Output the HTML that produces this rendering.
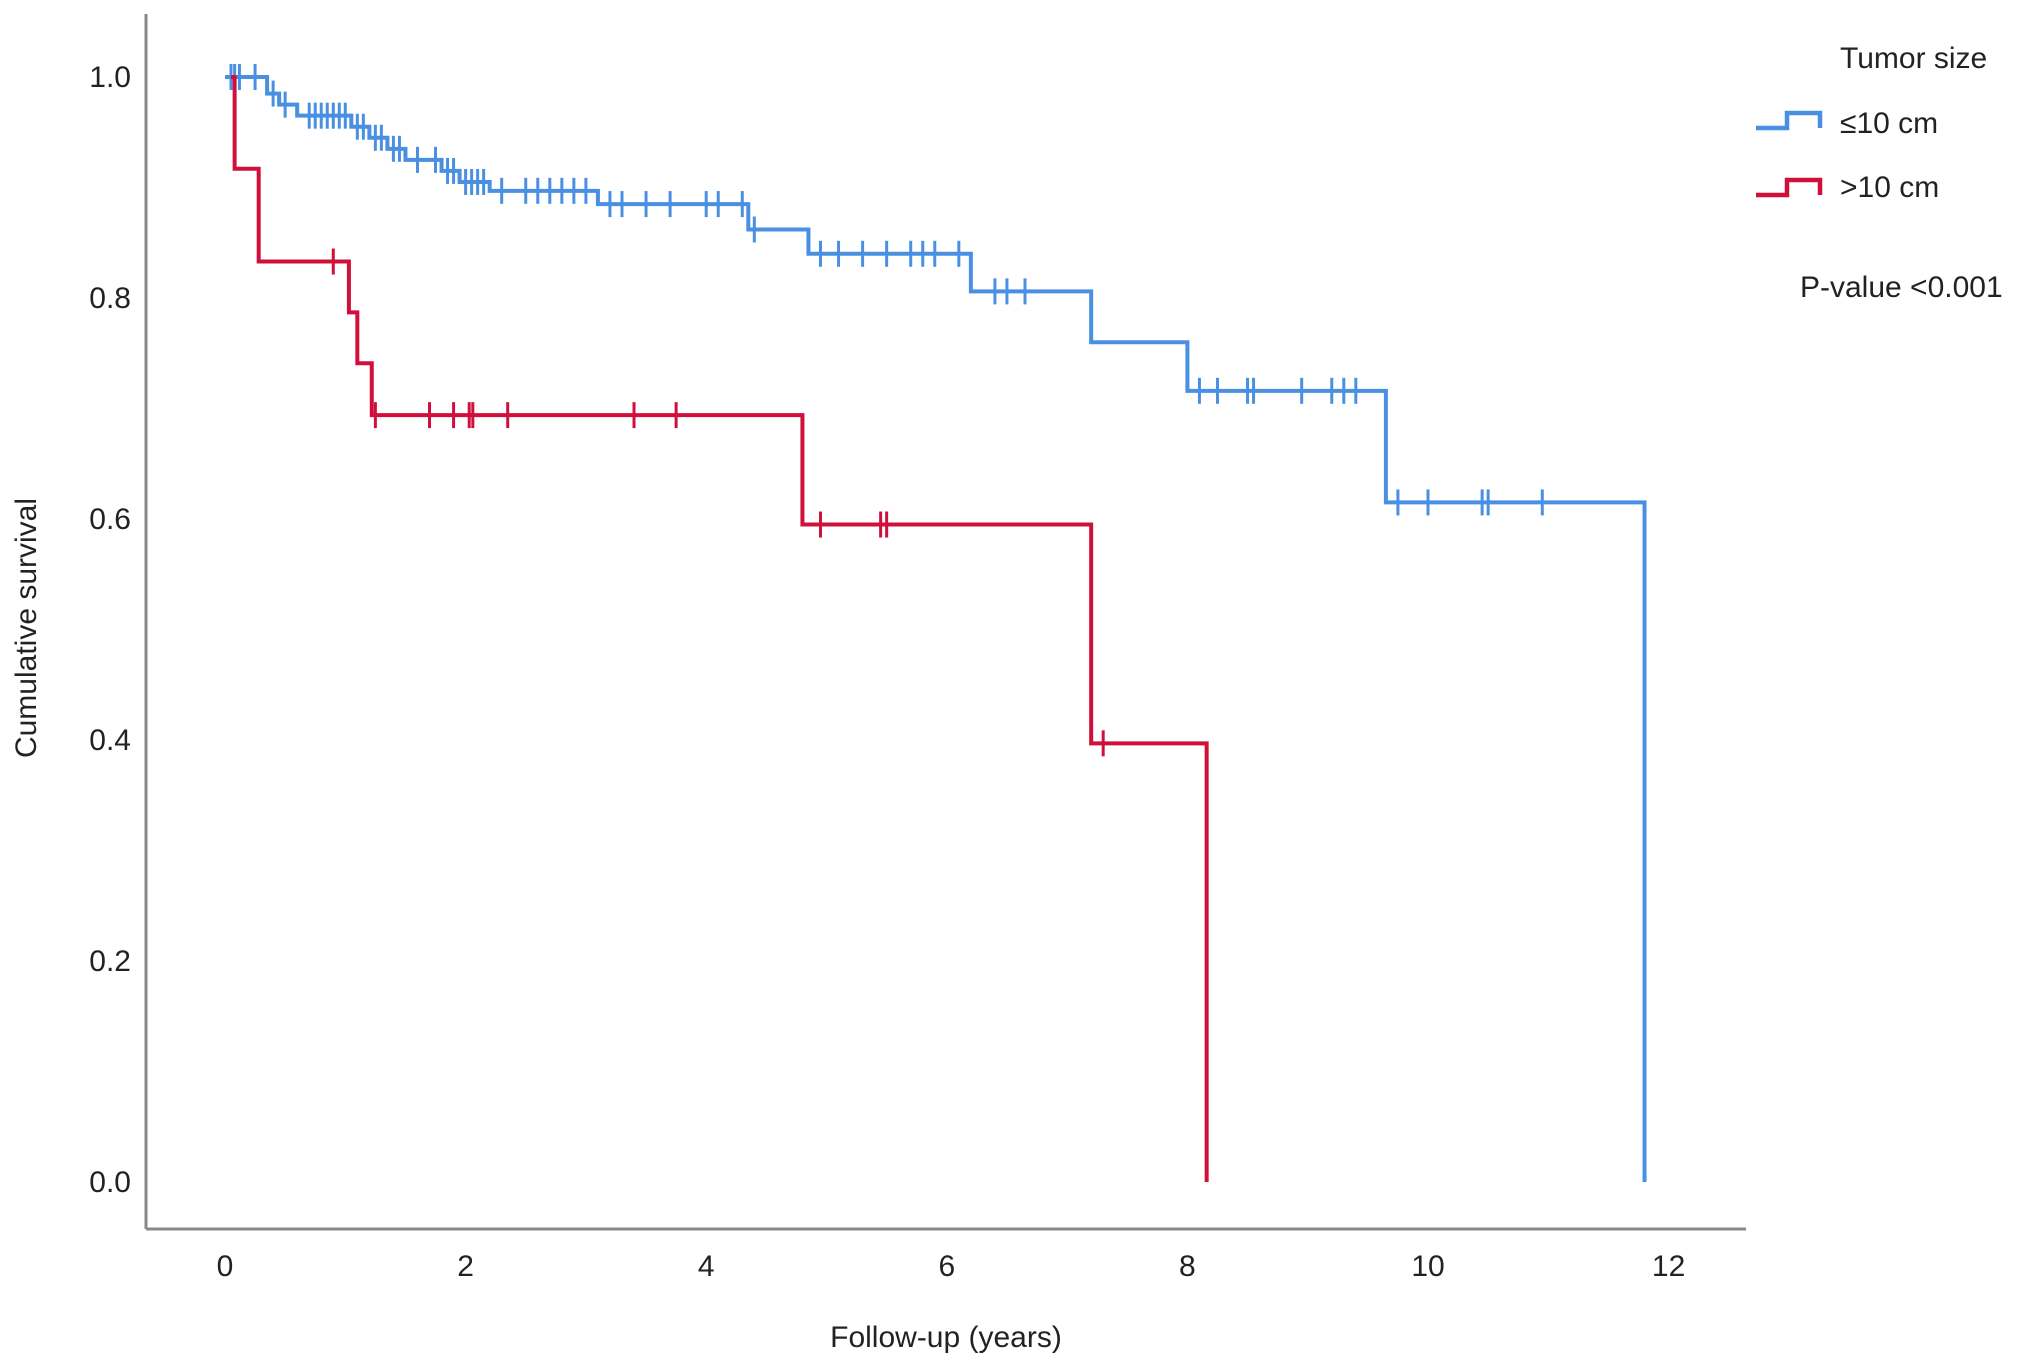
<!DOCTYPE html>
<html><head><meta charset="utf-8"><style>
html,body{margin:0;padding:0;background:#fff;}
svg{display:block;font-family:"Liberation Sans",Arial,sans-serif;}
</style></head><body>
<svg id="chart" width="2032" height="1369" viewBox="0 0 2032 1369">
<g id="axes"></g>
<g id="plot"></g>
<g>
<text x="1840" y="68" font-size="30" fill="#222">Tumor size</text>
<path d="M1756 128 H1787 V113 H1820 V128" fill="none" stroke="#4a90e2" stroke-width="4.5"/>
<text x="1840" y="133" font-size="30" fill="#222">≤10 cm</text>
<path d="M1756 195 H1787 V180 H1820 V195" fill="none" stroke="#d0103a" stroke-width="4.5"/>
<text x="1840" y="197" font-size="30" fill="#222">&gt;10 cm</text>
<text x="1800" y="297" font-size="30" fill="#222">P-value &lt;0.001</text>
</g>
<text x="946" y="1347" font-size="30" fill="#222" text-anchor="middle">Follow-up (years)</text>
<text transform="translate(36,628) rotate(-90)" font-size="30" fill="#222" text-anchor="middle">Cumulative survival</text>
</svg>
<script>
const xTicks=[0,2,4,6,8,10,12];
const yTicks=[0.0,0.2,0.4,0.6,0.8,1.0];
const blueTimes=[0,0.35,0.45,0.6,1.05,1.2,1.35,1.5,1.8,1.95,2.2,3.1,4.35,4.85,6.2,7.2,8.0,9.65,11.8];
const blueSurv=[1.0,0.985,0.975,0.965,0.955,0.945,0.935,0.925,0.915,0.905,0.897,0.885,0.862,0.84,0.806,0.76,0.716,0.615,0.0];
const blueCensor=[0.05,0.08,0.12,0.25,0.4,0.5,0.7,0.75,0.8,0.85,0.9,0.95,1.0,1.1,1.15,1.25,1.3,1.4,1.45,1.6,1.75,1.85,1.9,2.0,2.05,2.1,2.15,2.3,2.5,2.6,2.7,2.8,2.9,3.0,3.2,3.3,3.5,3.7,4.0,4.1,4.3,4.4,4.95,5.1,5.3,5.5,5.7,5.8,5.9,6.1,6.4,6.5,6.65,8.1,8.25,8.5,8.55,8.95,9.2,9.3,9.4,9.75,10.0,10.45,10.5,10.95];
const redTimes=[0.05,0.08,0.28,1.03,1.1,1.22,4.8,7.2,8.16];
const redSurv=[1.0,0.917,0.833,0.787,0.741,0.694,0.595,0.397,0.0];
const redCensor=[0.9,1.25,1.7,1.9,2.03,2.06,2.35,3.4,3.75,4.95,5.45,5.5,7.3];
const NS="http://www.w3.org/2000/svg";
const xs=t=>225+120.3*t;
const ys=v=>1182-1105*v;
function mk(tag,attrs,parent){const e=document.createElementNS(NS,tag);for(const k in attrs)e.setAttribute(k,attrs[k]);parent.appendChild(e);return e;}
const axes=document.getElementById('axes'),plot=document.getElementById('plot');
let a=mk('line',{x1:146,y1:14,x2:146,y2:1229,stroke:'#888','stroke-width':3},axes);


a=mk('line',{x1:146,y1:1229,x2:1746,y2:1229,stroke:'#888','stroke-width':3},axes);


xTicks.forEach(t=>{const e=mk('text',{x:xs(t),y:1276,'font-size':30,fill:'#222','text-anchor':'middle'},axes);e.textContent=t;

});
yTicks.forEach(v=>{const e=mk('text',{x:131,y:ys(v)+10,'font-size':30,fill:'#222','text-anchor':'end'},axes);e.textContent=v.toFixed(1);

});
function curve(times,surv,censor,color,name){
  let d='M'+xs(times[0])+' '+ys(surv[0]);
  for(let i=1;i<times.length;i++){d+=' H'+xs(times[i])+' V'+ys(surv[i]);}
  const p=mk('path',{d:d,fill:'none',stroke:color,'stroke-width':4},plot);
  
  
  censor.forEach(t=>{let v=surv[0];for(let i=0;i<times.length;i++){if(times[i]<=t)v=surv[i];}
    const l=mk('line',{x1:xs(t),x2:xs(t),y1:ys(v)-13,y2:ys(v)+13,stroke:color,'stroke-width':3},plot);
    
    });
}
curve(blueTimes,blueSurv,blueCensor,'#4a90e2','le10');
curve(redTimes,redSurv,redCensor,'#d0103a','gt10');
</script>
</body></html>
